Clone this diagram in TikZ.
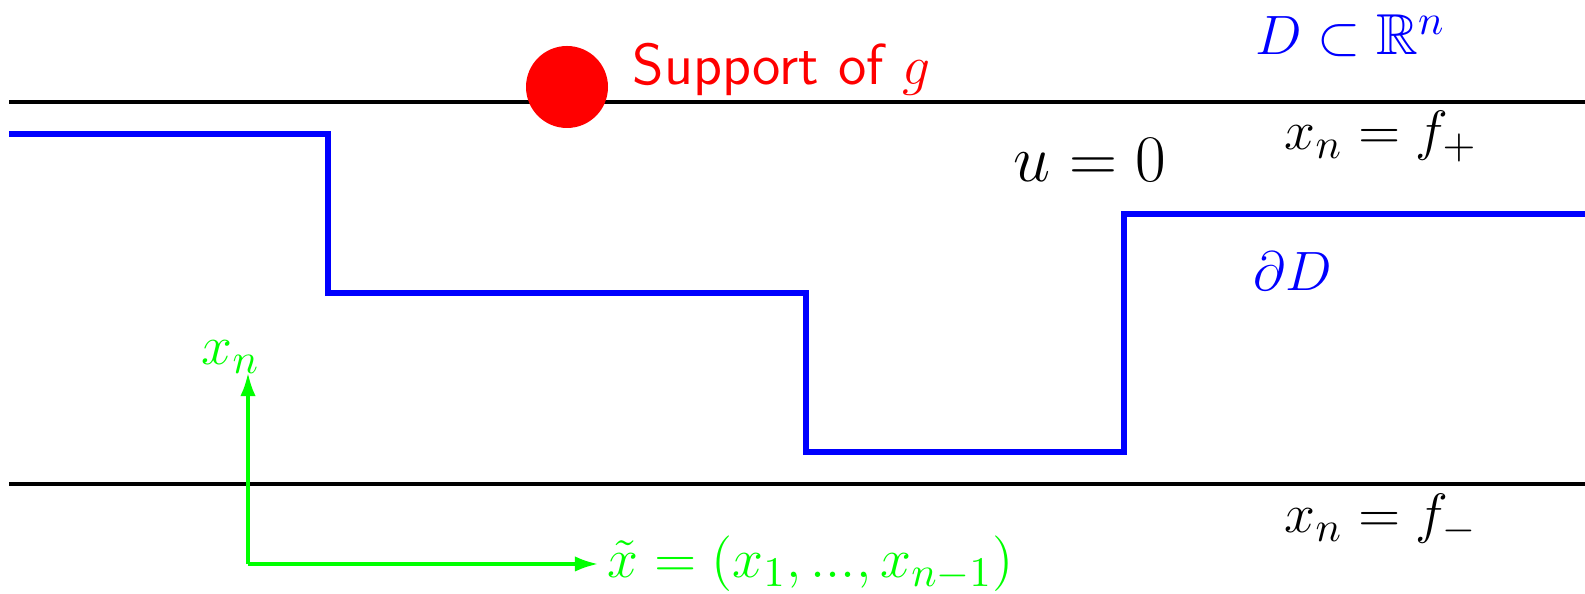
\documentclass[tikz,border=0pt]{standalone}
\usepackage{amssymb}
\usetikzlibrary{arrows.meta}

\begin{document}
\begin{tikzpicture}[
  x=0.009124cm, y=-0.009124cm,
  font=\fontsize{15}{18}\selectfont,
  lbl/.style={anchor=base west, inner sep=0pt},
  wall/.style={black, line width=0.8pt},
  bdry/.style={blue, line width=1.35pt},
  axis/.style={green, line width=0.8pt, -{Latex[length=2.1mm, width=1.4mm]}}
]
\useasboundingbox (0,0) rectangle (1585,594);
% the two flat walls
\draw[wall] (9,102) -- (1585,102);
\draw[wall] (9,484) -- (1585,484);
% the stepped boundary
\draw[bdry] (9,134) -- (328,134) -- (328,293) -- (806,293) -- (806,452)
  -- (1124,452) -- (1124,214) -- (1585,214);
% support of g
\fill[red] (567,87) circle (41);
\node[lbl, red] (supp) at (632,85) {\sffamily Support of $g$};
% labels
\node[lbl, blue] (dom) at (1255,55) {$D\subset\mathbb{R}^n$};
\node[lbl] (fplus) at (1284,150) {$x_n=f_+$};
\node[lbl] (fminus) at (1284,533) {$x_n=f_-$};
\node[lbl, font=\fontsize{17.8}{21}\selectfont] (uzero) at (1013,182) {$u=0$};
\node[lbl, blue] (bd) at (1253,291) {$\partial D$};
% coordinate axes
\coordinate (orig) at (248,564);
\coordinate (ytip) at (248,373);
\coordinate (xtip) at (598,564);
\draw[axis] (orig) -- (ytip);
\draw[axis] (orig) -- (xtip);
\node[lbl, green] (xn) at (201,365) {$x_n$};
\node[lbl, green] (xt) at (607,578) {$\tilde{x}=(x_1,...,x_{n-1})$};
\end{tikzpicture}
\end{document}
